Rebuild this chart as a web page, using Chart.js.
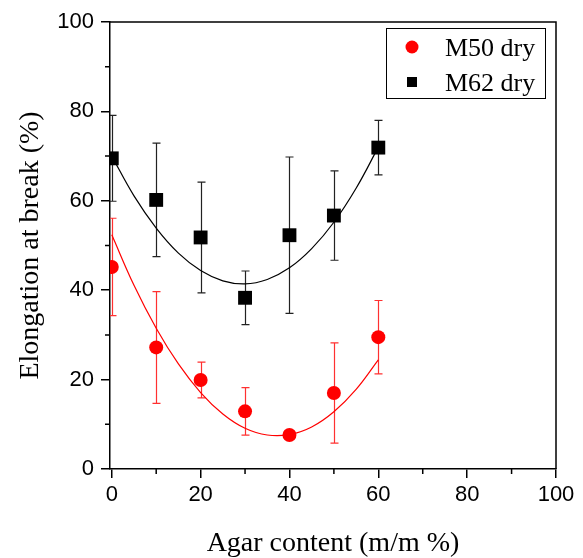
<!DOCTYPE html>
<html>
<head>
<meta charset="utf-8">
<script src="https://cdn.jsdelivr.net/npm/chart.js@4.4.0/dist/chart.umd.min.js"></script>
<style>
  html, body { margin: 0; padding: 0; background: #fff; }
  #wrap { width: 583px; height: 558px; }
</style>
</head>
<body>
<div id="wrap"><canvas id="myChart" width="583" height="558"></canvas></div>
<script>
// measured points (agar content, elongation at break)
const agar = [0, 10, 20, 30, 40, 50, 60];
const m50 = [45.2, 27.2, 19.9, 12.9, 7.6, 17.0, 29.5];
const m50Err = [10.9, 12.5, 4.0, 5.3, 0.6, 11.2, 8.2];
const m62 = [69.5, 60.2, 51.8, 38.3, 52.3, 56.7, 71.9];
const m62Err = [9.6, 12.7, 12.4, 6.0, 17.5, 10.0, 6.1];

// fitted curves
const fitX = [0, 5, 10, 15, 20, 25, 30, 35, 40, 45, 50, 55, 60];
const fit50 = [52.4, 41.1, 31.5, 23.5, 17.1, 12.3, 9.1, 7.6, 7.7, 9.4, 12.8, 17.8, 24.4];
const fit62 = [70.0, 61.1, 53.9, 48.3, 44.4, 42.1, 41.4, 42.4, 45.0, 49.3, 55.2, 62.8, 72.0];

const xTicks = [0, 20, 40, 60, 80, 100];
const yTicks = [0, 20, 40, 60, 80, 100];
const xMinor = [10, 30, 50, 70, 90];
const yMinor = [10, 30, 50, 70, 90];

const serif = '"Liberation Serif", "Times New Roman", serif';
const sans = '"Liberation Sans", Arial, sans-serif';

function toPts(xs, ys) {
    let out = [];
    for (let i = 0; i < xs.length; i++) {
        out.push({x: xs[i], y: ys[i]});
    }
    return out;
}

const extras = {
    id: 'extras',
    beforeDatasetsDraw(chart) {
        const {ctx, chartArea, scales: {x, y}} = chart;
        ctx.save();
        ctx.beginPath();
        ctx.rect(chartArea.left, chartArea.top, chartArea.width, chartArea.height);
        ctx.clip();
        const sets = [[m50, m50Err, '#ff3030'], [m62, m62Err, '#222222']];
        for (let [vals, errs, col] of sets) {
            ctx.strokeStyle = col;
            ctx.lineWidth = 1.2;
            for (let i = 0; i < vals.length; i++) {
                const px = Math.round(x.getPixelForValue(agar[i])) + 0.5;
                const top = y.getPixelForValue(vals[i] + errs[i]);
                const bot = y.getPixelForValue(vals[i] - errs[i]);
                ctx.beginPath();
                ctx.moveTo(px, top); ctx.lineTo(px, bot);
                ctx.moveTo(px - 4, top); ctx.lineTo(px + 4, top);
                ctx.moveTo(px - 4, bot); ctx.lineTo(px + 4, bot);
                ctx.stroke();
            }
        }
        ctx.restore();
    },
    afterDraw(chart) {
        const {ctx, chartArea, scales: {x, y}} = chart;
        ctx.save();
        ctx.strokeStyle = '#000';
        ctx.lineWidth = 1.5;
        // top and right frame
        ctx.beginPath();
        ctx.moveTo(chartArea.left, chartArea.top);
        ctx.lineTo(chartArea.right, chartArea.top);
        ctx.lineTo(chartArea.right, chartArea.bottom);
        ctx.stroke();
        // minor ticks
        ctx.beginPath();
        for (let v of xMinor) {
            const px = x.getPixelForValue(v);
            ctx.moveTo(px, chartArea.bottom);
            ctx.lineTo(px, chartArea.bottom + 5);
        }
        for (let v of yMinor) {
            const py = y.getPixelForValue(v);
            ctx.moveTo(chartArea.left, py);
            ctx.lineTo(chartArea.left - 5, py);
        }
        ctx.stroke();

        // legend
        ctx.lineWidth = 1;
        ctx.strokeRect(386.5, 28.5, 159, 70);
        ctx.fillStyle = '#ff0000';
        ctx.beginPath();
        ctx.arc(412, 47, 6.5, 0, Math.PI * 2);
        ctx.fill();
        ctx.fillStyle = '#000';
        ctx.fillRect(407, 77, 10, 10);
        ctx.font = '26px ' + serif;
        ctx.textBaseline = 'alphabetic';
        ctx.fillText('M50 dry', 445, 56);
        ctx.fillText('M62 dry', 445, 91);
        ctx.restore();
    }
};

const ctx = document.getElementById('myChart');

const myChart = new Chart(ctx, {
    type: 'scatter',
    data: {
        datasets: [
            {
                label: 'M50 dry',
                data: toPts(agar, m50),
                pointStyle: 'circle',
                pointRadius: 7,
                backgroundColor: '#ff0000',
                borderColor: '#ff0000',
                borderWidth: 0,
                clip: 0
            },
            {
                label: 'M62 dry',
                data: toPts(agar, m62),
                pointStyle: 'rect',
                pointRadius: 9.8,
                backgroundColor: '#000',
                borderColor: '#000',
                borderWidth: 0,
                clip: 0
            },
            {
                label: 'fit50',
                data: toPts(fitX, fit50),
                showLine: true,
                pointRadius: 0,
                borderColor: '#ff0000',
                borderWidth: 1.2,
                tension: 0.4,
                clip: 0
            },
            {
                label: 'fit62',
                data: toPts(fitX, fit62),
                showLine: true,
                pointRadius: 0,
                borderColor: '#000',
                borderWidth: 1.2,
                tension: 0.4,
                clip: 0
            }
        ]
    },
    options: {
        responsive: false,
        animation: false,
        devicePixelRatio: 1,
        layout: { padding: { left: 0, right: 27, top: 22, bottom: 0 } },
        plugins: {
            legend: { display: false },
            tooltip: { enabled: false }
        },
        scales: {
            x: {
                type: 'linear',
                min: -0.4,
                max: 100,
                afterBuildTicks: (scale) => { scale.ticks = xTicks.map(v => ({value: v})); },
                afterFit: (scale) => { scale.height = 89; },
                grid: { drawOnChartArea: false, tickLength: 9, color: '#000', lineWidth: 1.5 },
                border: { display: true, color: '#000', width: 1.5 },
                ticks: { color: '#000', font: { family: sans, size: 22 }, padding: 4, maxRotation: 0 },
                title: {
                    display: true,
                    text: 'Agar content (m/m %)',
                    color: '#000',
                    font: { family: serif, size: 28, weight: 'normal' },
                    padding: { top: 0, bottom: -2 }
                }
            },
            y: {
                type: 'linear',
                min: 0,
                max: 100,
                afterBuildTicks: (scale) => { scale.ticks = yTicks.map(v => ({value: v})); },
                afterFit: (scale) => { scale.width = 110; },
                grid: { drawOnChartArea: false, tickLength: 9, color: '#000', lineWidth: 1.5 },
                border: { display: true, color: '#000', width: 1.5 },
                ticks: { color: '#000', font: { family: sans, size: 22 }, padding: 7 },
                title: {
                    display: true,
                    text: 'Elongation at break (%)',
                    color: '#000',
                    font: { family: serif, size: 28, weight: 'normal' },
                    padding: { top: 14, bottom: 0 }
                }
            }
        }
    },
    plugins: [extras]
});
</script>
</body>
</html>
